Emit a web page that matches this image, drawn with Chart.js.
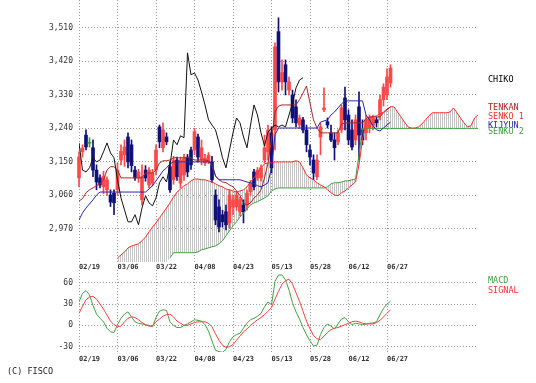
<!DOCTYPE html>
<html><head><meta charset="utf-8">
<script src="https://cdn.jsdelivr.net/npm/chart.js@4.4.1/dist/chart.umd.min.js"></script>
<style>
html,body{margin:0;padding:0;background:#fff;}
body{width:536px;height:383px;position:relative;overflow:hidden;}
canvas{position:absolute;left:0;}
#main{top:0;}
#sub{top:262px;}
.lg{position:absolute;font-family:'DejaVu Sans Mono',monospace;font-size:8.5px;line-height:9px;white-space:pre;}
</style></head><body>
<canvas id="main" width="536" height="275"></canvas>
<canvas id="sub" width="536" height="110"></canvas>
<div class="lg" style="left:488px;top:75px;color:#000">CHIKO</div>
<div class="lg" style="left:488px;top:103px;color:#a82828">TENKAN</div>
<div class="lg" style="left:488px;top:112px;color:#ff3030">SENKO 1</div>
<div class="lg" style="left:488px;top:121px;color:#2828a8">KIJYUN</div>
<div class="lg" style="left:488px;top:127px;color:#44a044">SENKO 2</div>
<div class="lg" style="left:488px;top:276px;color:#44a044">MACD</div>
<div class="lg" style="left:488px;top:286px;color:#ff3030">SIGNAL</div>
<div class="lg" style="left:7px;top:367px;color:#222">(C) FISCO</div>
<script>
// ---- axis / tick data ----
const tickLabels = ['02/19','03/06','03/22','04/08','04/23','05/13','05/28','06/12','06/27'];
const TICK_STEP = 11;
const X_MAX = 114;
const Y_MIN = 2881, Y_MAX = 3585;
const priceTicks = [2970,3060,3150,3240,3330,3420,3510];
const MACD_MIN = -37.5, MACD_MAX = 78;
const macdTicks = [-30,0,30,60];

// ---- candles ----
const open = [3107,3177,3222,3200,3188,3128,3107,3083,3075,3061,
  3066,3075,3155,3169,3217,3196,3128,3107,3048,3128,
  3088,3093,3128,3244,3188,3217,3137,3102,3155,3093,
  3115,3163,3182,3182,3217,3155,3147,3150,3150,3061,
  3029,3008,3016,2986,3029,3029,3016,3034,3034,3070,
  3123,3107,3107,3155,3177,3228,3236,3500,3365,3411,
  3343,3330,3298,3249,3263,3236,3182,3155,3110,3217,
  3290,3258,3228,3209,3204,3236,3322,3276,3236,3209,
  3298,3236,3228,3241,3249,3263,3276,3317,3330,3362];
const high = [3177,3196,3236,3215,3209,3142,3115,3125,3110,3075,
  3075,3147,3196,3209,3228,3209,3138,3130,3142,3140,
  3135,3130,3196,3249,3255,3228,3150,3165,3163,3163,
  3170,3170,3190,3240,3225,3209,3170,3175,3165,3075,
  3048,3020,3034,3075,3061,3070,3055,3048,3075,3100,
  3130,3135,3142,3222,3249,3244,3470,3537,3424,3424,
  3378,3343,3317,3276,3270,3249,3196,3169,3169,3255,
  3349,3268,3249,3228,3236,3303,3351,3290,3263,3276,
  3338,3263,3276,3276,3276,3270,3330,3360,3400,3411];
const low = [3083,3163,3182,3190,3110,3075,3080,3065,3060,3030,
  3008,3061,3142,3138,3134,3123,3100,3095,3034,3098,
  3080,3085,3115,3188,3177,3196,3068,3090,3100,3080,
  3100,3110,3130,3169,3150,3142,3140,3145,3095,2981,
  2962,2975,2967,2973,3008,3020,3005,2986,3020,3060,
  3075,3100,3098,3147,3155,3120,3182,3338,3343,3330,
  3330,3255,3244,3240,3228,3177,3142,3102,3102,3169,
  3285,3241,3204,3155,3196,3228,3236,3196,3182,3196,
  3155,3196,3209,3228,3236,3244,3263,3300,3317,3351];
const close = [3163,3187,3190,3200,3128,3096,3088,3112,3102,3042,
  3040,3128,3178,3190,3150,3140,3107,3123,3110,3107,
  3128,3120,3182,3204,3236,3204,3075,3155,3110,3155,
  3160,3123,3142,3231,3163,3188,3160,3168,3102,2994,
  2975,2989,2981,3061,3048,3061,3048,3016,3066,3093,
  3083,3128,3134,3188,3236,3134,3459,3365,3390,3365,
  3365,3268,3255,3268,3236,3196,3163,3120,3155,3244,
  3295,3249,3209,3188,3228,3295,3263,3209,3190,3263,
  3222,3209,3263,3268,3268,3255,3317,3351,3378,3402];

// ---- ichimoku lines ----
const chiko = [3201,3128,3123,3134,3161,3150,3155,3177,3201,3174,
  3161,3102,3053,3021,2989,2989,3008,2981,3026,3059,
  3040,3032,3053,3094,3110,3096,3142,3209,3196,3220,
  3215,3443,3384,3389,3370,3338,3303,3263,3249,3236,
  3201,3161,3134,3182,3228,3268,3255,3217,3188,3249,
  3303,3276,3228,3193,3230,3241,3249,3244,3249,3244,
  3276,3308,3349,3370,3376];
const tenkan = [3045,3051,3067,3075,3080,3086,3091,3102,3128,3137,
  3137,3128,3107,3107,3107,3107,3107,3107,3107,3120,
  3120,3120,3128,3147,3153,3153,3155,3161,3161,3161,
  3161,3161,3161,3155,3155,3155,3155,3153,3139,3112,
  3102,3096,3094,3088,3083,3072,3059,3040,3034,3040,
  3053,3061,3075,3107,3147,3209,3284,3300,3303,3303,
  3303,3303,3303,3317,3335,3354,3308,3263,3241,3228,
  3228,3228,3228,3228,3228,3252,3255,3255,3255,3255,
  3255,3255,3266,3271,3271,3271,3271,3282,3290,3298];
const kijun = [2994,3013,3026,3037,3048,3061,3069,3069,3069,3069,
  3069,3069,3069,3069,3069,3069,3069,3069,3069,3069,
  3077,3086,3099,3112,3126,3134,3145,3150,3150,3150,
  3150,3150,3150,3150,3150,3150,3150,3150,3147,3112,
  3102,3102,3102,3102,3102,3102,3102,3099,3096,3094,
  3091,3086,3083,3088,3094,3134,3223,3241,3241,3241,
  3241,3241,3241,3241,3241,3241,3241,3241,3241,3257,
  3260,3263,3276,3284,3295,3306,3314,3314,3314,3314,
  3314,3314,3276,3263,3247,3236,3233,3241,3249,3257];
const SENKOU1_START = 11;
const senkou1Values = [2892,2900,2908,2919,2924,2927,2930,2938,2948,2962,
  2975,2986,3000,3013,3026,3040,3056,3069,3077,3086,
  3091,3099,3104,3104,3102,3102,3099,3096,3091,3086,
  3083,3077,3075,3072,3069,3072,3075,3083,3096,3107,
  3120,3134,3145,3147,3147,3150,3150,3150,3150,3150,
  3150,3153,3150,3134,3115,3107,3102,3094,3088,3083,
  3075,3067,3061,3059,3067,3072,3080,3088,3096,3142,
  3209,3260,3268,3271,3274,3279,3284,3292,3298,3298,
  3284,3271,3257,3244,3241,3241,3244,3252,3263,3274,
  3282,3282,3282,3282,3282,3284,3295,3282,3268,3255,
  3244,3247,3268,3276];
const SENKOU2_START = 26;
const senkou2Values = [2892,2906,2906,2906,2906,
  2906,2906,2906,2908,2914,2916,2919,2922,2924,2930,
  2938,2951,2965,2978,2989,3002,3013,3024,3034,3040,
  3043,3048,3053,3059,3072,3077,3080,3080,3080,3080,
  3080,3080,3080,3080,3080,3080,3080,3080,3080,3080,
  3083,3091,3094,3094,3096,3099,3099,3102,3104,3169,
  3240,3240,3240,3240,3240,3240,3240,3240,3240,3240,
  3240,3240,3240,3240,3240,3240,3240,3240,3240,3240,
  3240,3240,3240,3240,3240,3240,3240,3240,3240,3240,
  3240,3240,3240,3240];

// ---- MACD ----
const macd = [33,45,49,43,28,16,10,5,-4,-9,
  -10,1,10,16,19,12,5,3,2,1,
  0,-2,11,20,22,21,5,0,-3,-3,
  0,2,5,8,7,6,1,-8,-22,-35,
  -37,-38,-34,-23,-16,-13,-11,-4,3,8,
  10,13,17,26,33,29,62,71,71,64,
  50,32,19,9,-3,-13,-22,-29,-28,-13,
  -3,2,-1,-5,2,9,11,5,1,3,
  2,1,2,3,3.5,5,15,24,30,34];
const signal = [17,27,36,40,41,37,30,23,14.5,6,
  1,-2,-1,5,10,12,11,8,4,1,
  -1,-1,5,9,13,15,16,12,6,3,
  0,0,2,4,5,5,5,3,-2,-12,
  -21,-28,-31,-30,-27,-21,-15,-9,-5,0,
  4,8,11,15,20,25,37,48,58,63,
  65,58,46,34,20,6,-5,-14,-19,-20,
  -15,-10,-6,-4,-3,-1,1,3,5,6,
  5,3,2,2,2,4,7,12,17,22];

// ---- styles ----
const MONO = "'DejaVu Sans Mono', monospace";
const GRID = '#9a9a9a';
const COL = { up:'#ff4848', down:'#10107a', doji:'#3c9c3c', tenkan:'#a82828', senko1:'#ff3030',
  kijun:'#2828a8', senko2:'#44a044', chiko:'#111111', macd:'#44a044', signal:'#ff4040', hatch:'#c4c4c4' };

Chart.defaults.animation = false;
Chart.defaults.font.family = MONO;

const pts = arr => arr.map((v, i) => ({ x: i, y: v }));
const shifted = (start, vals) => vals.map((v, k) => ({ x: start + k, y: v }));
const senkou2ByIndex = i => (i >= SENKOU2_START ? senkou2Values[i - SENKOU2_START] : null);
// lower edge of the hatched cloud: senkou 2 where it exists, otherwise the plot floor
const cloudBase = senkou1Values.map((_, k) => {
  const i = SENKOU1_START + k;
  const s2 = senkou2ByIndex(i);
  return { x: i, y: s2 == null ? Y_MIN : s2 };
});
const candleColor = close.map((c, i) => c > open[i] ? COL.up : (c < open[i] ? COL.down : COL.doji));

function makeHatch(ctx) {
  const pc = document.createElement('canvas');
  pc.width = 2; pc.height = 1;
  const g = pc.getContext('2d');
  g.fillStyle = COL.hatch; g.fillRect(0, 0, 1, 1);
  return ctx.createPattern(pc, 'repeat');
}

function xAxis(height, pad) {
  return {
    type: 'linear', min: 0, max: X_MAX, offset: false,
    afterBuildTicks: s => { s.ticks = tickLabels.map((_, k) => ({ value: k * TICK_STEP })); },
    afterFit: s => { s.height = height; s.paddingLeft = 0; s.paddingRight = 0; },
    ticks: { autoSkip: false, maxRotation: 0, minRotation: 0, align: 'start', padding: pad,
      color: '#333', font: { family: MONO, size: 7, weight: 'bold' },
      callback: (v, k) => tickLabels[k] },
    grid: { color: GRID, lineWidth: 1, drawTicks: false, offset: false },
    border: { display: false, dash: [1, 2] }
  };
}
function yAxis(min, max, ticks) {
  return {
    min, max,
    afterBuildTicks: s => { s.ticks = ticks.map(v => ({ value: v })); },
    afterFit: s => { s.width = 79; s.paddingTop = 0; s.paddingBottom = 0; },
    ticks: { padding: 6, color: '#333', font: { family: MONO, size: 8 } },
    grid: { color: GRID, lineWidth: 1, drawTicks: false },
    border: { display: false, dash: [1, 2] }
  };
}
const lineDs = (label, data, color, order, extra) => Object.assign({
  type: 'line', label, data, borderColor: color, borderWidth: 1, pointRadius: 0,
  tension: 0, fill: false, spanGaps: false, order
}, extra || {});

const mainCtx = document.getElementById('main').getContext('2d');
const hatch = makeHatch(mainCtx);

new Chart(mainCtx, {
  type: 'line',
  data: { datasets: [
    lineDs('cloudBase', cloudBase, 'rgba(0,0,0,0)', 10, { borderWidth: 0 }),
    { type: 'bar', label: 'wick', data: low.map((l, i) => ({ x: i, y: [l, high[i]] })),
      backgroundColor: candleColor, borderWidth: 0, barThickness: 1, grouped: false, order: 6, clip: false },
    { type: 'bar', label: 'body', data: open.map((o, i) => ({ x: i, y: [o, close[i]] })),
      backgroundColor: candleColor, borderWidth: 0, barThickness: 3, minBarLength: 1, grouped: false, order: 5, clip: false },
    lineDs('SENKO 2', shifted(SENKOU2_START, senkou2Values), COL.senko2, 3),
    lineDs('SENKO 1', shifted(SENKOU1_START, senkou1Values), COL.senko1, 2,
      { fill: { target: 0 }, backgroundColor: hatch }),
    lineDs('KIJYUN', pts(kijun), COL.kijun, 1),
    lineDs('TENKAN', pts(tenkan), COL.tenkan, 1),
    lineDs('CHIKO', pts(chiko), COL.chiko, 0)
  ]},
  options: {
    responsive: false, devicePixelRatio: 1, animation: false, events: [],
    layout: { padding: { left: 0, right: 58, top: 0, bottom: 0 } },
    plugins: { legend: { display: false }, tooltip: { enabled: false },
      filler: { drawTime: 'beforeDatasetsDraw', propagate: false } },
    scales: { x: xAxis(13, 1), y: yAxis(Y_MIN, Y_MAX, priceTicks) }
  }
});

new Chart(document.getElementById('sub').getContext('2d'), {
  type: 'line',
  data: { datasets: [
    lineDs('MACD', pts(macd), COL.macd, 1),
    lineDs('SIGNAL', pts(signal), COL.signal, 0)
  ]},
  options: {
    responsive: false, devicePixelRatio: 1, animation: false, events: [],
    layout: { padding: { left: 0, right: 58, top: 8, bottom: 0 } },
    plugins: { legend: { display: false }, tooltip: { enabled: false } },
    scales: { x: xAxis(20, 3), y: yAxis(MACD_MIN, MACD_MAX, macdTicks) }
  }
});
</script>
</body></html>
